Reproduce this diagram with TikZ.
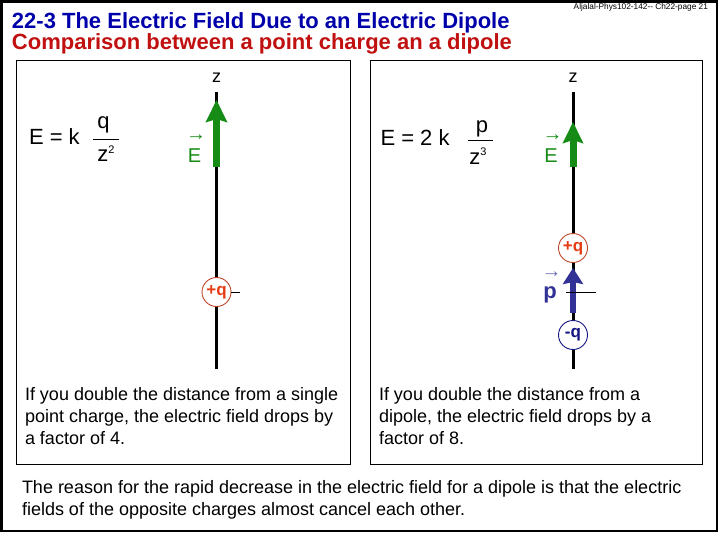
\documentclass[tikz,border=0pt]{standalone}
\usepackage{fontspec}
\setmainfont{Liberation Sans}
\usetikzlibrary{arrows.meta}
\definecolor{titleblue}{RGB}{0,0,170}
\definecolor{titlered}{RGB}{192,16,16}
\definecolor{fieldgreen}{RGB}{22,140,22}
\definecolor{dipoleblue}{RGB}{50,50,150}
\definecolor{plustext}{RGB}{230,60,20}
\definecolor{plusring}{RGB}{190,70,40}
\definecolor{minusblue}{RGB}{20,20,130}
\newcommand{\fsz}[2]{\fontsize{#1}{#2}\selectfont}
\begin{document}
\begin{tikzpicture}[x=1pt,y=-1pt,
  every node/.style={inner sep=0pt,outer sep=0pt},
  frame/.style={draw=black,line width=2.5pt},
  panel/.style={draw=black,line width=1pt},
  zaxis/.style={draw=black,line width=3pt},
  tick/.style={draw=black,line width=0.8pt},
  efield/.style={draw=fieldgreen,line width=7pt,-{Stealth[length=22pt,width=21pt,inset=3pt]}},
  efieldshort/.style={draw=fieldgreen,line width=7pt,-{Stealth[length=21pt,width=20pt,inset=3pt]}},
  dipolearrow/.style={draw=dipoleblue,line width=6pt,-{Stealth[length=16pt,width=20pt,inset=2pt]}},
  pluscharge/.style={circle,draw=plusring,line width=0.9pt,fill=white,minimum size=29pt,text=plustext,font=\bfseries\fsz{17}{17}},
  minuscharge/.style={circle,draw=minusblue,line width=0.9pt,fill=white,minimum size=29pt,text=minusblue,font=\bfseries\fsz{17}{17}},
  formula/.style={font=\fsz{22}{22}},
  zlabel/.style={font=\fsz{18}{18}},
  veclabel/.style={font=\fsz{20}{20}},
  vecarrow/.style={font=\fsz{20}{20}},
  body/.style={anchor=north west,align=left,font=\fsz{18}{22}}
]
\useasboundingbox (0,0) rectangle (720,540);
\draw[frame] (1.5,1.5) rectangle (717,531);

% header and titles
\node[anchor=base east,font=\fsz{8.3}{8.3}] (hdr) at (708,10) {Aljalal-Phys102-142-{}- Ch22-page 21};
\node[anchor=base west,font=\bfseries\fsz{22}{22},text=titleblue] (title) at (12,29) {22-3 The Electric Field Due to an Electric Dipole};
\node[anchor=base west,font=\bfseries\fsz{22}{22},text=titlered] (subtitle) at (12,49.5) {Comparison between a point charge an a dipole};

% panels
\draw[panel] (16.7,60.7) rectangle (350,464);
\draw[panel] (370,60.7) rectangle (702.7,464);

% ---------- left panel: point charge ----------
\coordinate (zTopL) at (216.5,92);
\coordinate (zBotL) at (216.5,369);
\draw[zaxis] (zTopL) -- (zBotL);
\node[zlabel] (zL) at (216.5,78) {z};
\coordinate (eBaseL) at (216.5,167);
\coordinate (eTipL) at (216.5,100);
\draw[efield] (eBaseL) -- (eTipL);
\node[veclabel,text=fieldgreen,anchor=base] (EL) at (194.5,162.5) {E};
\node[vecarrow,text=fieldgreen] (EarrL) at (196,138) {→};
\node[pluscharge] (qL) at (216.5,292) {+q};
\coordinate (tickEndL) at (240,292);
\draw[tick] (qL.east) -- (tickEndL);

\node[formula,anchor=base west] (eqL) at (29,145) {E = k};
\node[formula,anchor=base] (numL) at (103.5,129) {q};
\node[formula,anchor=base] (denL) at (106,162) {z\raisebox{8.5pt}{\fsz{11}{11}2}};
\coordinate (barLa) at (92.7,139);
\coordinate (barLb) at (119,139);
\draw[line width=0.8pt] (barLa) -- (barLb);

% ---------- right panel: dipole ----------
\coordinate (zTopR) at (573,92);
\coordinate (zBotR) at (573,369);
\draw[zaxis] (zTopR) -- (zBotR);
\node[zlabel] (zR) at (573,78) {z};
\coordinate (eBaseR) at (573,167);
\coordinate (eTipR) at (573,122);
\draw[efieldshort] (eBaseR) -- (eTipR);
\node[veclabel,text=fieldgreen,anchor=base] (ER) at (551,162.5) {E};
\node[vecarrow,text=fieldgreen] (EarrR) at (552.5,138) {→};

\coordinate (pBase) at (573,313);
\coordinate (pTip) at (573,268);
\draw[dipolearrow] (pBase) -- (pTip);
\node[pluscharge] (qPlus) at (573,248) {+q};
\node[minuscharge] (qMinus) at (573,335) {-q};
\coordinate (tickStartR) at (566,292);
\coordinate (tickEndR) at (596,292);
\draw[tick] (tickStartR) -- (tickEndR);
\node[text=dipoleblue,font=\bfseries\fsz{22}{22},anchor=base] (pLab) at (550,298) {p};
\node[vecarrow,text=dipoleblue!70] (pArr) at (551.5,275) {→};

\node[formula,anchor=base west] (eqR) at (380.5,146) {E = 2 k};
\node[formula,anchor=base] (numR) at (482,133) {p};
\node[formula,anchor=base] (denR) at (478,164.5) {z\raisebox{8.5pt}{\fsz{11}{11}3}};
\coordinate (barRa) at (468,140);
\coordinate (barRb) at (493,140);
\draw[line width=0.8pt] (barRa) -- (barRb);

% ---------- texts ----------
\node[body] (txtL) at (25,387.5) {If you double the distance from a single\\point charge, the electric field drops by\\a factor of 4.};
\node[body] (txtR) at (379,387.5) {If you double the distance from a\\dipole, the electric field drops by a\\factor of 8.};
\node[body] (txtB) at (22,480.5) {The reason for the rapid decrease in the electric field for a dipole is that the electric\\fields of the opposite charges almost cancel each other.};
\end{tikzpicture}
\end{document}
